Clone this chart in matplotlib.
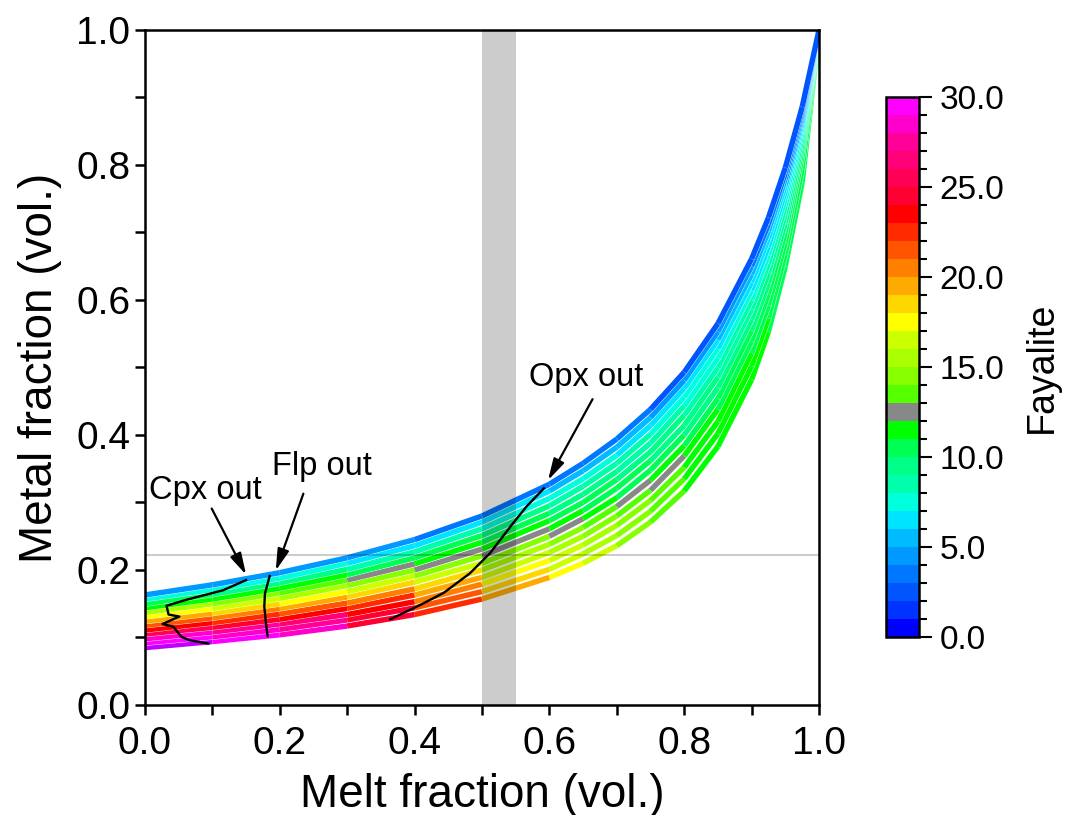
import numpy as np
import matplotlib
matplotlib.use("Agg")
import matplotlib.pyplot as plt
from matplotlib.collections import LineCollection
from matplotlib.colors import ListedColormap, BoundaryNorm
from matplotlib.cm import ScalarMappable
from matplotlib.ticker import MultipleLocator

plt.rcParams["font.family"] = ["Liberation Sans", "DejaVu Sans"]

# melt fraction nodes shared by every curve
melt_frac = [0.0, 0.1, 0.2, 0.3, 0.4, 0.5, 0.6, 0.65, 0.7, 0.75, 0.8, 0.85,
             0.9, 0.925, 0.95, 0.975, 1.0]

# metal fraction along each curve (top curve first)
metal_frac = [
    [0.163, 0.178, 0.196, 0.218, 0.245, 0.280, 0.327, 0.358, 0.394, 0.438, 0.493, 0.565, 0.661, 0.722, 0.796, 0.886, 1.0],
    [0.157, 0.171, 0.188, 0.210, 0.236, 0.271, 0.317, 0.347, 0.382, 0.426, 0.481, 0.553, 0.650, 0.712, 0.788, 0.881, 1.0],
    [0.150, 0.164, 0.181, 0.201, 0.227, 0.261, 0.306, 0.335, 0.370, 0.414, 0.469, 0.541, 0.638, 0.702, 0.779, 0.876, 1.0],
    [0.144, 0.157, 0.173, 0.193, 0.218, 0.251, 0.295, 0.324, 0.358, 0.401, 0.456, 0.528, 0.626, 0.691, 0.770, 0.870, 1.0],
    [0.137, 0.150, 0.166, 0.185, 0.209, 0.241, 0.284, 0.312, 0.346, 0.388, 0.443, 0.514, 0.614, 0.679, 0.761, 0.864, 1.0],
    [0.131, 0.143, 0.158, 0.177, 0.200, 0.231, 0.273, 0.300, 0.334, 0.375, 0.429, 0.500, 0.600, 0.667, 0.750, 0.857, 1.0],
    [0.124, 0.136, 0.150, 0.168, 0.191, 0.221, 0.261, 0.288, 0.321, 0.362, 0.414, 0.486, 0.586, 0.654, 0.739, 0.850, 1.0],
    [0.118, 0.129, 0.143, 0.160, 0.182, 0.210, 0.250, 0.276, 0.307, 0.348, 0.400, 0.470, 0.571, 0.640, 0.727, 0.842, 1.0],
    [0.111, 0.122, 0.135, 0.151, 0.172, 0.200, 0.238, 0.263, 0.294, 0.333, 0.384, 0.454, 0.555, 0.625, 0.714, 0.833, 1.0],
    [0.105, 0.115, 0.127, 0.143, 0.163, 0.189, 0.226, 0.250, 0.280, 0.318, 0.369, 0.438, 0.539, 0.609, 0.700, 0.824, 1.0],
    [0.098, 0.108, 0.120, 0.134, 0.153, 0.179, 0.214, 0.237, 0.266, 0.303, 0.352, 0.420, 0.521, 0.592, 0.685, 0.813, 1.0],
    [0.092, 0.101, 0.112, 0.126, 0.144, 0.168, 0.201, 0.224, 0.251, 0.287, 0.335, 0.402, 0.502, 0.573, 0.668, 0.794, 1.0],
    [0.085, 0.094, 0.104, 0.117, 0.134, 0.157, 0.189, 0.210, 0.236, 0.271, 0.317, 0.383, 0.482, 0.553, 0.650, 0.774, 1.0],
]

# fayalite content of each segment between the nodes above
fayalite = [
    [4.5, 4.5, 4.5, 4.5, 3.5, 3.5, 3.5, 3.5, 3.5, 2.5, 2.5, 2.5, 2.5, 2.5, 2.5, 2.5],
    [7.5, 7.5, 7.5, 6.5, 6.5, 6.5, 5.5, 5.5, 5.5, 4.5, 4.5, 4.5, 3.5, 3.5, 3.5, 3.5],
    [10.5, 9.5, 9.5, 8.5, 8.5, 7.5, 7.5, 7.5, 6.5, 6.5, 6.5, 5.5, 5.5, 5.5, 4.5, 4.5],
    [11.5, 11.5, 11.5, 10.5, 10.5, 9.5, 8.5, 8.5, 8.5, 7.5, 7.5, 6.5, 6.5, 6.5, 5.5, 5.5],
    [15.5, 14.5, 13.5, 12.5, 11.5, 10.5, 9.5, 9.5, 8.5, 8.5, 7.5, 7.5, 6.5, 6.5, 6.5, 5.5],
    [17.5, 16.5, 15.5, 14.5, 12.5, 11.5, 10.5, 10.5, 9.5, 9.5, 8.5, 8.5, 7.5, 7.5, 7.5, 6.5],
    [19.5, 18.5, 17.5, 16.5, 14.5, 12.5, 11.5, 10.5, 10.5, 9.5, 9.5, 8.5, 8.5, 8.5, 7.5, 7.5],
    [21.5, 20.5, 19.5, 18.5, 16.5, 14.5, 12.5, 11.5, 10.5, 10.5, 9.5, 9.5, 9.5, 8.5, 8.5, 8.5],
    [23.5, 22.5, 21.5, 20.5, 18.5, 15.5, 14.5, 13.5, 12.5, 11.5, 10.5, 10.5, 9.5, 9.5, 9.5, 8.5],
    [25.5, 24.5, 23.5, 22.5, 19.5, 16.5, 15.5, 14.5, 13.5, 12.5, 11.5, 10.5, 10.5, 10.5, 9.5, 9.5],
    [28.0, 27.5, 26.5, 23.5, 20.5, 17.5, 16.5, 15.5, 14.5, 13.5, 11.5, 11.5, 10.5, 10.5, 10.5, 9.5],
    [29.5, 28.5, 27.5, 24.5, 21.5, 18.5, 16.5, 15.5, 14.5, 13.5, 11.5, 11.5, 11.5, 10.5, 10.5, 10.5],
    [31.0, 29.5, 28.0, 24.5, 22.5, 19.5, 17.5, 16.5, 14.5, 13.5, 11.5, 11.5, 11.5, 10.5, 10.5, 10.5],
]

# phase-out traces
cpx_x = [0.150, 0.116, 0.062, 0.032, 0.035, 0.051, 0.026, 0.042, 0.054, 0.066, 0.094]
cpx_y = [0.185, 0.170, 0.156, 0.147, 0.134, 0.131, 0.120, 0.116, 0.101, 0.096, 0.091]
flp_x = [0.185, 0.178, 0.177, 0.180, 0.182]
flp_y = [0.191, 0.165, 0.146, 0.116, 0.102]
opx_x = [0.364, 0.408, 0.443, 0.482, 0.512, 0.542, 0.566, 0.592]
opx_y = [0.127, 0.148, 0.166, 0.195, 0.225, 0.264, 0.294, 0.321]

band_x = (0.50, 0.55)
ref_metal = 0.222

fa_colors = ['#0000ff', '#0033ff', '#0055ff', '#0077ff', '#0099ff', '#00bbff',
             '#00e5ff', '#00ffdd', '#00ffaa', '#00ff88', '#00ff55', '#00ff00',
             '#888888', '#55ff00', '#88ff00', '#aaff00', '#ccff00', '#ffff00',
             '#ffd700', '#ffaa00', '#ff8000', '#ff5500', '#ff2a00', '#ff0000',
             '#ff0033', '#ff0055', '#ff0077', '#ff0099', '#ff00cc', '#ff00ff']
cmap = ListedColormap(fa_colors)
cmap.set_over('#c000ff')
norm = BoundaryNorm(np.arange(0, 31, 1), cmap.N)

fig = plt.figure(figsize=(10.66, 8.15), dpi=100)
ax = fig.add_axes([0.136, 0.135, 0.6323, 0.8282])

# draw bottom curve first so upper ones sit on top
for ys, fa in zip(metal_frac[::-1], fayalite[::-1]):
    pts = np.column_stack([melt_frac, ys])
    ax.plot(melt_frac, ys, color='white', lw=4.4, solid_capstyle='butt',
            solid_joinstyle='round', zorder=2)
    segs = np.stack([pts[:-1], pts[1:]], axis=1)
    lc = LineCollection(segs, cmap=cmap, norm=norm, linewidths=3.9,
                        capstyle='butt', zorder=2)
    lc.set_array(np.array(fa))
    ax.add_collection(lc)

ax.axvspan(band_x[0], band_x[1], facecolor='black', alpha=0.2, lw=0, zorder=3)
ax.axhline(ref_metal, color='black', alpha=0.22, lw=1.3, zorder=3)

for xs, ys in [(cpx_x, cpx_y), (flp_x, flp_y), (opx_x, opx_y)]:
    ax.plot(xs, ys, color='black', lw=1.7, zorder=4)

arrow = dict(arrowstyle='-|>,head_length=1.3,head_width=0.35', color='black',
             lw=1.6, shrinkA=0, shrinkB=0)
ax.annotate('', xy=(0.150, 0.193), xytext=(0.099, 0.291), arrowprops=arrow, zorder=5)
ax.annotate('', xy=(0.194, 0.199), xytext=(0.235, 0.313), arrowprops=arrow, zorder=5)
ax.annotate('', xy=(0.598, 0.333), xytext=(0.664, 0.453), arrowprops=arrow, zorder=5)
ax.text(0.089, 0.318, 'Cpx out', ha='center', va='center', fontsize=23.5)
ax.text(0.262, 0.353, 'Flp out', ha='center', va='center', fontsize=23.5)
ax.text(0.655, 0.485, 'Opx out', ha='center', va='center', fontsize=23.5)

ax.set_xlim(0, 1)
ax.set_ylim(0, 1)
ax.xaxis.set_major_locator(MultipleLocator(0.2))
ax.xaxis.set_minor_locator(MultipleLocator(0.1))
ax.yaxis.set_major_locator(MultipleLocator(0.2))
ax.yaxis.set_minor_locator(MultipleLocator(0.1))
ax.xaxis.set_major_formatter('{x:.1f}')
ax.yaxis.set_major_formatter('{x:.1f}')
ax.tick_params(which='both', direction='out', length=7, width=1.8, labelsize=28)
ax.tick_params(axis='x', pad=8)
for sp in ax.spines.values():
    sp.set_linewidth(1.8)
ax.set_xlabel('Melt fraction (vol.)', fontsize=33, labelpad=8)
ax.set_ylabel('Metal fraction (vol.)', fontsize=33, labelpad=10)

cax = fig.add_axes([0.831, 0.2184, 0.031, 0.6626])
cb = fig.colorbar(ScalarMappable(norm=norm, cmap=cmap), cax=cax,
                  ticks=np.arange(0, 31, 5), format='%.1f')
cb.ax.yaxis.set_minor_locator(MultipleLocator(1))
cb.ax.tick_params(which='major', direction='out', length=9, width=1.5,
                  labelsize=24, pad=6)
cb.ax.tick_params(which='minor', direction='out', length=6, width=1.5)
cb.outline.set_linewidth(1.8)
cb.set_label('Fayalite', fontsize=27, labelpad=14)

fig.savefig('out.png', dpi=100)
